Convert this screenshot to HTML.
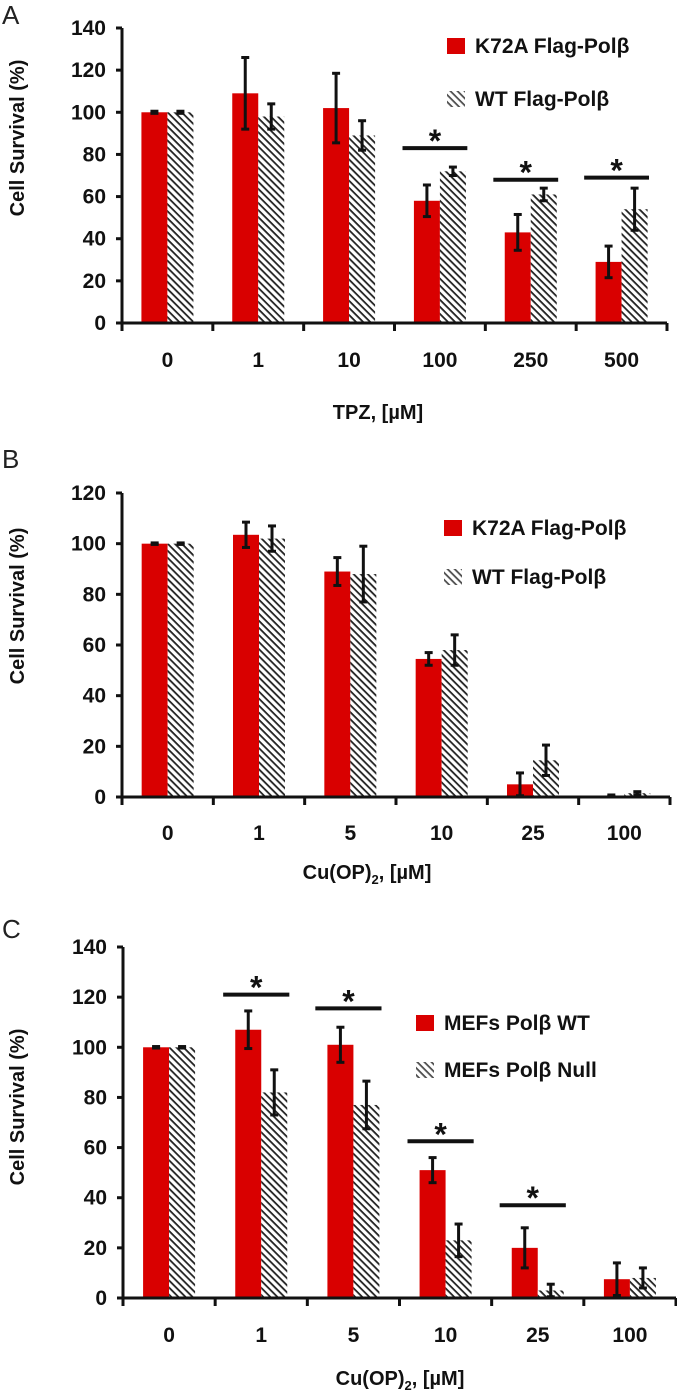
<!DOCTYPE html>
<html><head><meta charset="utf-8"><style>
html,body{margin:0;padding:0;background:#fff;}
svg{display:block;font-family:"Liberation Sans",sans-serif;}
</style></head><body>
<svg id="fig" width="677" height="1392" viewBox="0 0 677 1392" xmlns="http://www.w3.org/2000/svg">
<defs>
<pattern id="hatch" patternUnits="userSpaceOnUse" width="5" height="5" patternTransform="rotate(45)">
<rect width="5" height="5" fill="#fff"/>
<rect x="0" y="0" width="5" height="1.8" fill="#222"/>
</pattern>
</defs>
</svg>
<script>
// Panel A data
const catsA = ["0","1","10","100","250","500"];
const redA = [100,109,102,58,43,29];
const redErrA = [0.5,17,16.5,7.5,8.5,7.5];
const hatchA = [100,98,89,72,61,54];
const hatchErrA = [0.5,6,7,2,3,10];
const sigA = [3,4,5];
const sigYA = [83,68,69];
const ticksA = [0,20,40,60,80,100,120,140];
// Panel B data
const catsB = ["0","1","5","10","25","100"];
const redB = [100,103.5,89,54.5,5,0.5];
const redErrB = [0.3,5,5.5,2.5,4.5,0.3];
const hatchB = [100,102,88,58,14.5,1.5];
const hatchErrB = [0.3,5,11,6,6,0.6];
const sigB = [];
const sigYB = [];
const ticksB = [0,20,40,60,80,100,120];
// Panel C data
const catsC = ["0","1","5","10","25","100"];
const redC = [100,107,101,51,20,7.5];
const redErrC = [0.3,7.5,7,5,8,6.5];
const hatchC = [100,82,77,23,3,8];
const hatchErrC = [0.3,9,9.5,6.5,2.5,4];
const sigC = [1,2,3,4];
const sigYC = [121,115.5,62.5,37];
const ticksC = [0,20,40,60,80,100,120,140];

const svg = document.getElementById('fig');
const NS = "http://www.w3.org/2000/svg";
function mk(tag, attrs, parent, text){
  const e = document.createElementNS(NS, tag);
  for (const k in attrs) e.setAttribute(k, attrs[k]);
  if (text !== undefined) e.textContent = text;
  (parent||svg).appendChild(e);
  return e;
}

function panel(p){
  const g = mk('g', {});
  
  
  const y = v => p.y0 - (v / p.vmax) * (p.y0 - p.yTop);
  const gw = (p.x1 - p.x0) / p.cats.length;
  const cx = i => p.x0 + gw * (i + 0.5);
  const bw = 26;

  const letter = mk('text', {x:2, y:p.letterY, 'font-size':26, fill:'#222'}, g, p.id);
  
  

  p.cats.forEach((c,i)=>{
    const r = mk('rect', {x:cx(i)-bw, y:y(p.red[i]), width:bw, height:p.y0-y(p.red[i]), fill:'#d90000'}, g);
    
    
    const h = mk('rect', {x:cx(i), y:y(p.hatch[i]), width:bw, height:p.y0-y(p.hatch[i]), fill:'url(#hatch)'}, g);
    
    
  });
  function err(x, v, e, name){
    const eg = mk('g', {stroke:'#111', 'stroke-width':3}, g);
    
    
    mk('line', {x1:x, x2:x, y1:y(v+e), y2:y(v-e)}, eg);
    mk('line', {x1:x-4, x2:x+4, y1:y(v+e), y2:y(v+e)}, eg);
    mk('line', {x1:x-4, x2:x+4, y1:y(v-e), y2:y(v-e)}, eg);
  }
  p.cats.forEach((c,i)=>{
    err(cx(i)-bw/2, p.red[i], p.redErr[i], 'error-bar-red-' + c);
    err(cx(i)+bw/2, p.hatch[i], p.hatchErr[i], 'error-bar-hatched-' + c);
  });
  p.sig.forEach((gi,k)=>{
    const l = mk('line', {x1:p.x0+gw*gi+8, x2:p.x0+gw*(gi+1)-18, y1:y(p.sigY[k]), y2:y(p.sigY[k]), stroke:'#111','stroke-width':4}, g);
    
    
    const s = mk('text', {x:cx(gi)-5, y:y(p.sigY[k])+4, 'font-size':32, 'font-weight':'bold', 'text-anchor':'middle', fill:'#111'}, g, '*');
    
    
  });
  const ax = mk('path', {d:`M${p.x0},${p.yTop} V${p.y0} H${p.x1}`, stroke:'#111','stroke-width':3, fill:'none'}, g);
  
  
  p.ticks.forEach(t=>{
    mk('line', {x1:p.x0-6, x2:p.x0, y1:y(t), y2:y(t), stroke:'#111','stroke-width':3}, g);
    const tl = mk('text', {x:p.x0-16, y:y(t)+7, 'font-size':21, 'font-weight':'bold', 'text-anchor':'end', fill:'#111'}, g, t);
    
    
  });
  for (let i=0;i<=p.cats.length;i++){
    mk('line', {x1:p.x0+gw*i, x2:p.x0+gw*i, y1:p.y0, y2:p.y0+8, stroke:'#111','stroke-width':3}, g);
  }
  p.cats.forEach((c,i)=>{
    const tl = mk('text', {x:cx(i), y:p.xLabY+7, 'font-size':21, 'font-weight':'bold', 'text-anchor':'middle', fill:'#111'}, g, c);
    
    
  });
  const xt = mk('text', {x:p.xTitleX, y:p.xTitleY+7, 'font-size':20, 'font-weight':'bold', 'text-anchor':'middle', fill:'#111'}, g);
  
  
  if (p.sub){
    xt.appendChild(document.createTextNode('Cu(OP)'));
    mk('tspan', {'font-size':13, dy:5}, xt, '2');
    mk('tspan', {dy:-5}, xt, ', [µM]');
  } else xt.textContent = p.xTitle;
  const yt = mk('text', {x:0, y:0, 'font-size':20, 'font-weight':'bold', 'text-anchor':'middle', fill:'#111', transform:`translate(24,${p.yTitleY}) rotate(-90)`}, g, 'Cell Survival (%)');
  
  
  const lg = mk('g', {}, g);
  
  
  mk('rect', {x:p.legX, y:p.legY1-8, width:18, height:16, fill:'#d90000'}, lg);
  const l1 = mk('text', {x:p.legX+28, y:p.legY1+7, 'font-size':21, 'font-weight':'bold', fill:'#111'}, lg, p.leg[0]);
  
  
  mk('rect', {x:p.legX, y:p.legY2-8, width:18, height:16, fill:'url(#hatch)', opacity:0.8}, lg);
  const l2 = mk('text', {x:p.legX+28, y:p.legY2+7, 'font-size':21, 'font-weight':'bold', fill:'#111'}, lg, p.leg[1]);
  
  
}

panel({id:'A', cats:catsA, red:redA, redErr:redErrA, hatch:hatchA, hatchErr:hatchErrA, sig:sigA, sigY:sigYA, ticks:ticksA,
  vmax:140, x0:122, x1:667, y0:323, yTop:28, letterY:24, xLabY:360, xTitle:'TPZ, [µM]', xTitleX:378, xTitleY:412, yTitleY:138,
  legX:447, legY1:46, legY2:99, leg:['K72A Flag-Polβ','WT Flag-Polβ']});
panel({id:'B', cats:catsB, red:redB, redErr:redErrB, hatch:hatchB, hatchErr:hatchErrB, sig:sigB, sigY:sigYB, ticks:ticksB,
  vmax:120, x0:122, x1:670, y0:797, yTop:493, letterY:468, xLabY:833, sub:true, xTitleX:367, xTitleY:872, yTitleY:606,
  legX:444, legY1:528, legY2:577, leg:['K72A Flag-Polβ','WT Flag-Polβ']});
panel({id:'C', cats:catsC, red:redC, redErr:redErrC, hatch:hatchC, hatchErr:hatchErrC, sig:sigC, sigY:sigYC, ticks:ticksC,
  vmax:140, x0:123, x1:676, y0:1298, yTop:947, letterY:938, xLabY:1335, sub:true, xTitleX:400, xTitleY:1378, yTitleY:1107,
  legX:416, legY1:1023, legY2:1070, leg:['MEFs Polβ WT','MEFs Polβ Null']});
</script>
</body></html>
